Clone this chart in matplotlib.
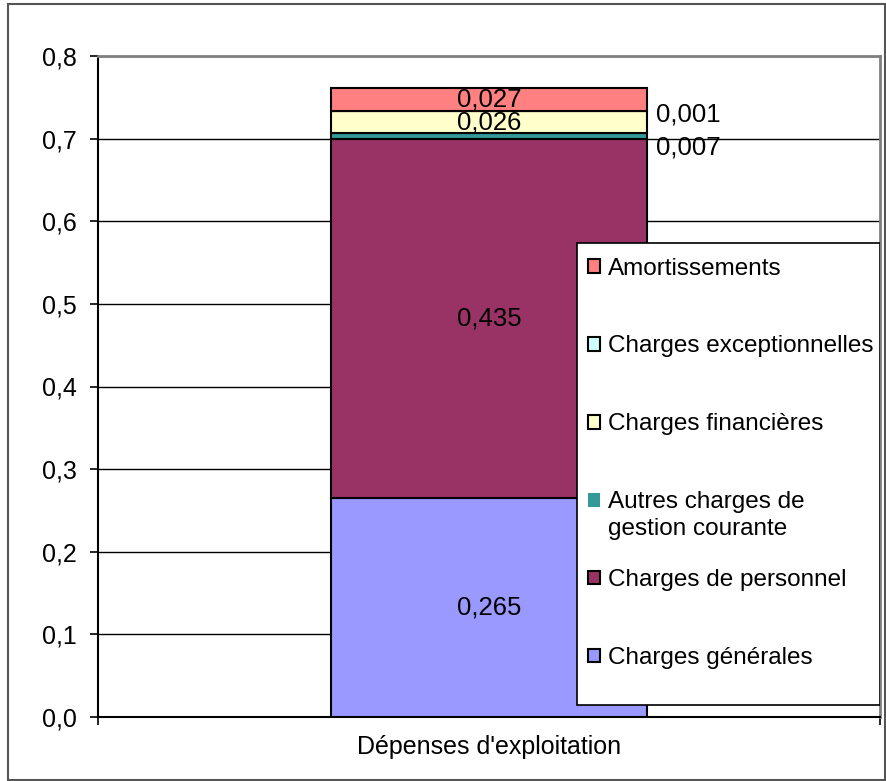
import matplotlib.pyplot as plt
import numpy as np
from matplotlib.patches import Rectangle

plt.rcParams['font.family'] = ['Liberation Sans', 'DejaVu Sans']

# ------------------------------------------------------------
# Données
# ------------------------------------------------------------
category = "Dépenses d'exploitation"
series = ["Charges générales", "Charges de personnel",
          "Autres charges de gestion courante", "Charges financières",
          "Charges exceptionnelles", "Amortissements"]
values = [0.265, 0.435, 0.007, 0.026, 0.001, 0.027]
colors = ["#9999FF", "#993366", "#339999", "#FFFFCC", "#CCFFFF", "#FF8080"]
outside = [False, False, True, False, True, False]   # étiquettes à droite de la barre
label_dy = [0, 0, -8.5, 0, -2.5, 0]                  # décalage vertical (points)

fig = plt.figure(figsize=(8.86, 7.81), dpi=100)
ax = fig.add_axes([98 / 886, 1 - 717 / 781, 782 / 886, 661 / 781])

bar_w = 0.404
bottom = 0.0
handles = []
for name, v, c, out, dy in zip(series, values, colors, outside, label_dy):
    b = ax.bar(0, v, bar_w, bottom=bottom, color=c, edgecolor="black",
               linewidth=1.5, label=name, zorder=3)
    handles.append(b)
    txt = f"{v:.3f}".replace(".", ",")
    if out:
        ax.annotate(txt, (bar_w / 2, bottom + v / 2), xytext=(6.5, dy),
                    textcoords="offset points", ha="left", va="center",
                    fontsize=18.5, zorder=4)
    else:
        ax.text(0, bottom + v / 2, txt, ha="center", va="center",
                fontsize=18.5, zorder=4)
    bottom += v

ax.set_xlim(-0.5, 0.5)
ax.set_ylim(0, 0.8)
ticks = np.arange(0, 0.81, 0.1)
ax.set_yticks(ticks)
ax.set_yticklabels([f"{t:.1f}".replace(".", ",") for t in ticks])
ax.tick_params(axis="y", length=6, width=1.2, pad=9, labelsize=18)
ax.set_xticks([0])
ax.set_xticklabels([category])
ax.tick_params(axis="x", length=0, pad=13, labelsize=18)
ax.set_xticks([-0.5, 0.5], minor=True)
ax.tick_params(axis="x", which="minor", length=6, width=1.2)

ax.grid(axis="y", color="black", linewidth=1)
ax.set_axisbelow(True)
for s in ["left", "bottom"]:
    ax.spines[s].set_color("black")
    ax.spines[s].set_linewidth(1.5)
for s in ["top", "right"]:
    ax.spines[s].set_color("#808080")
    ax.spines[s].set_linewidth(2)

# ------------------------------------------------------------
# Légende (style Excel : pas régulier, 2e ligne de "Autres..." en débord)
# ------------------------------------------------------------
leg_box = (479 / 782, 12 / 661, 303 / 782, 462 / 661)
ax.add_patch(Rectangle(leg_box[:2], leg_box[2], leg_box[3], transform=ax.transAxes,
                       facecolor="white", edgecolor="black", linewidth=1.2,
                       zorder=4.5))

leg_h = handles[::-1]
leg_l = [s.replace(" gestion courante", "") for s in series[::-1]]
leg = ax.legend(leg_h, leg_l, loc="upper left",
                bbox_to_anchor=(leg_box[0] - 3.5 / 782, leg_box[1] + leg_box[3]),
                fontsize=17.5, frameon=False, borderpad=0.6,
                labelspacing=2.3, handlelength=0.5, handleheight=0.5,
                handletextpad=0.3, borderaxespad=0)
leg.set_zorder(5)
for h, t in zip(leg.legend_handles, leg.get_texts()):
    h.set_linewidth(1.5)
    if t.get_text().startswith("Autres"):
        h.set_edgecolor("none")
        ax.annotate("gestion courante", xy=(0, 0.5), xycoords=t,
                    xytext=(0, -27), textcoords="offset pixels",
                    ha="left", va="center", fontsize=17.5, zorder=6)

# cadre de la zone de graphique
fig.patches.append(Rectangle((8 / 886, 1 / 781), 877 / 886, 776 / 781,
                             transform=fig.transFigure, fill=False,
                             edgecolor="#555555", linewidth=1.5))

plt.savefig("out.png", dpi=100)
